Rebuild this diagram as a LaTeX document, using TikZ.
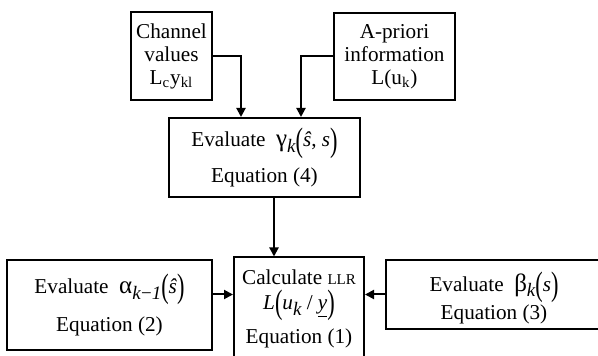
\documentclass[tikz,border=0pt]{standalone}
\usepackage{fontspec}
\setmainfont{Liberation Serif}
\usepackage{graphicx}
\usetikzlibrary{arrows.meta}

\newcommand{\lpar}{\raisebox{-0.45ex}{\scalebox{1.05}[1.6]{(}}}
\newcommand{\rpar}{\raisebox{-0.45ex}{\scalebox{1.05}[1.6]{)}}}
\newcommand{\isub}[1]{\raisebox{-0.6ex}{\fontsize{9.5}{10}\selectfont\itshape #1}}
\newcommand{\grk}[1]{{\fontsize{12.5}{12}\selectfont #1}}

\begin{document}
\begin{tikzpicture}[
  x=0.5pt, y=-0.5pt,
  font=\fontsize{10.6}{11.5}\selectfont,
  blk/.style={draw, line width=1pt, inner sep=0pt, align=center},
  arr/.style={-{Triangle[length=4.5pt,width=4.5pt]}, line width=1pt}
]
  \useasboundingbox (0,0) rectangle (598,356);

  \node[blk, minimum width=40.5pt, minimum height=44pt] (chan) at (171.5,56)
    {Channel\\values\\L\textsubscript{c}y\textsubscript{kl}};
  \node[blk, minimum width=60.5pt, minimum height=43.5pt] (apri) at (394.5,56.5)
    {A-priori\\information\\L(u\textsubscript{k})};
  \node[blk, minimum width=95.5pt, minimum height=39.5pt] (gam) at (264.5,157.5)
    {Evaluate\ \ \grk{γ}\isub{k}\lpar\textit{\^{s}}, \textit{s}\rpar\\[4pt]Equation (4)};
  \node[blk, minimum width=102.5pt, minimum height=45pt] (alph) at (109.5,305)
    {Evaluate\ \ \grk{α}\isub{k\textup{−}1}\lpar\textit{\^{s}}\rpar\\[5pt]Equation (2)};
  \node[blk, minimum width=65pt, minimum height=51.5pt] (llr) at (299,309)
    {Calculate {\fontsize{7.5}{9}\selectfont LLR}\\[1pt]
     \textit{L}\lpar\textit{u}\isub{k} / \underline{\textit{y}}\rpar\\[3pt]Equation (1)};
  \node[blk, minimum width=108pt, minimum height=34.5pt] (beta) at (494,294.5)
    {\rule{0pt}{13pt}Evaluate\ \ \grk{β}\isub{k}\lpar\textit{s}\rpar\\[0pt]Equation (3)};

  % drop points into the boxes
  \coordinate (c1) at (241,0);
  \coordinate (c2) at (301,0);
  \coordinate (c3) at (274,0);

  \draw[arr] (chan.east) -| (c1 |- gam.north);
  \draw[arr] (apri.west) -| (c2 |- gam.north);
  \draw[arr] (c3 |- gam.south) -- (c3 |- llr.north);
  \draw[arr] (alph.east |- beta.west) -- (llr.west |- beta.west);
  \draw[arr] (beta.west) -- (llr.east |- beta.west);
\end{tikzpicture}
\end{document}
